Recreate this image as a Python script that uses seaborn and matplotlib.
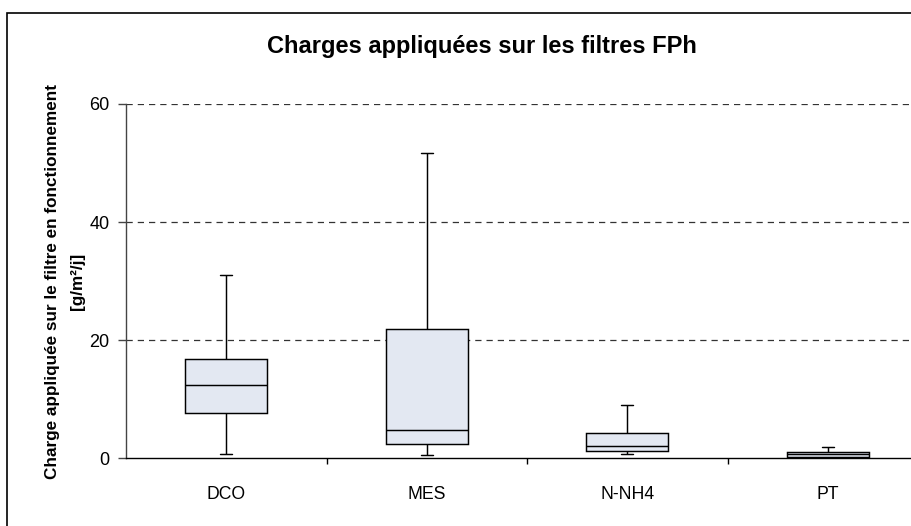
import numpy as np
import pandas as pd
import seaborn as sns
import matplotlib
matplotlib.use("Agg")
import matplotlib.pyplot as plt
from matplotlib.patches import Rectangle
from matplotlib.ticker import FixedLocator

# Five-number summaries (min, Q1, median, Q3, max)
categories = ["DCO", "MES", "N-NH4", "PT"]
dco = [0.78, 7.67, 12.36, 16.9, 31.0]
mes = [0.5, 2.42, 4.8, 21.95, 51.75]
nnh4 = [0.78, 1.24, 2.13, 4.28, 9.08]
pt = [0.05, 0.22, 0.7, 1.0, 1.9]
y_ticks = [0, 20, 40, 60]

title = "Charges appliquées sur les filtres FPh"
ylabel = "Charge appliquée sur le filtre en fonctionnement\n[g/m²/j]"

df = pd.DataFrame({
    "cat": np.repeat(categories, 5),
    "val": dco + mes + nnh4 + pt,
})

sns.set_style("white")
plt.rcParams["font.family"] = ["Liberation Sans", "DejaVu Sans"]
plt.rcParams["text.color"] = "black"
plt.rcParams["axes.labelcolor"] = "black"
plt.rcParams["xtick.color"] = "black"
plt.rcParams["ytick.color"] = "black"

fig = plt.figure(figsize=(9.12, 5.26), dpi=100)
W, H = 912, 526
ax = fig.add_axes([126 / W, (H - 458.3) / H, (928 - 126) / W, (458.3 - 104) / H])

sns.boxplot(data=df, x="cat", y="val", order=categories, ax=ax,
            whis=np.inf, width=0.41, color="#E3E8F2", saturation=1,
            linecolor="black", linewidth=1.05, showfliers=False,
            capwidths=0.06)

ax.set_ylim(0, 60)
ax.set_xlim(-0.5, len(categories) - 0.5)
ax.set_yticks(y_ticks)
ax.set_yticklabels([str(t) for t in y_ticks], fontsize=13)
ax.set_xticklabels(categories, fontsize=12.7)
ax.set_xlabel("")
ax.set_ylabel(ylabel, fontsize=12.3, fontweight="bold", labelpad=3,
              linespacing=1.8)

ax.set_axisbelow(True)
for t in y_ticks[1:]:
    ax.axhline(t, color="#333333", lw=0.9, linestyle=(0, (5, 4)), zorder=0)

for s in ["top", "right"]:
    ax.spines[s].set_visible(False)
ax.spines["left"].set_color("#444444")
ax.spines["bottom"].set_color("black")
ax.spines["left"].set_linewidth(1.0)
ax.spines["bottom"].set_linewidth(1.0)

ax.tick_params(axis="y", which="major", direction="out", length=6, width=1,
               color="#444444", left=True, pad=6)
ax.tick_params(axis="x", which="major", length=0, pad=20)
ax.xaxis.set_minor_locator(FixedLocator([0.5, 1.5, 2.5]))
ax.tick_params(axis="x", which="minor", direction="out", length=4, width=1,
               color="black", bottom=True)

fig.text(482 / W, 1 - 47 / H, title, ha="center", va="center",
         fontsize=17, fontweight="bold")

fig.patches.append(Rectangle((7 / W, -0.05), 1.2, 1 - 12.5 / H + 0.05,
                             transform=fig.transFigure, fill=False,
                             edgecolor="black", lw=1.2, zorder=-1))

fig.savefig("out.png", dpi=100)
